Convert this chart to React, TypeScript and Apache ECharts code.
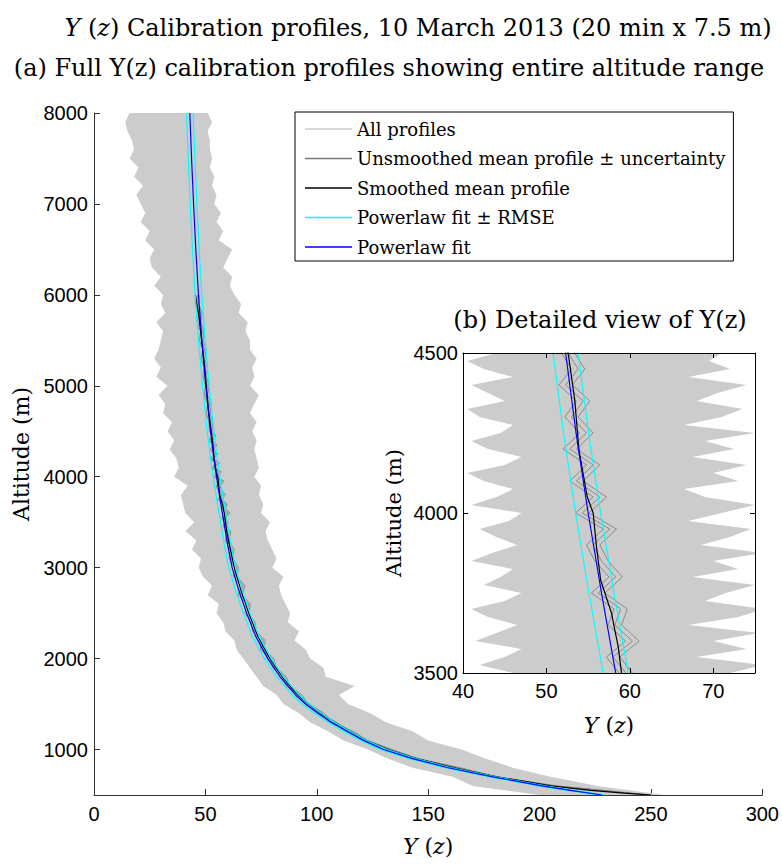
import React, { useEffect, useRef } from 'react';
import * as echarts from 'echarts';

// ---------- data ----------
// Powerlaw fit (blue)
const fitAlt = [500, 550, 600, 700, 800, 900, 1000, 1100, 1200, 1300, 1400, 1500, 1600, 1800, 2000, 2250, 2500, 2750, 3000, 3250, 3500, 3750, 4000, 4250, 4500, 5000, 5500, 6000, 6500, 7000, 7500, 8000];
const fitY = [228, 214, 201, 179, 159, 143, 130, 121, 113.5, 106.5, 100.5, 95, 90.5, 83.5, 78, 72.5, 68.5, 65, 62, 60, 58.3, 56.6, 55.0, 53.55, 52.3, 50.2, 48.4, 46.9, 45.7, 44.7, 43.8, 43.0];
const RMSE = 1.5;

// Smoothed mean profile (black)
const smAlt = [500, 520, 550, 600, 700, 800, 900, 1000, 1100, 1200, 1400, 1600, 1800, 2000, 2250, 2500, 2750, 3000, 3250, 3400, 3500, 3583, 3634, 3687, 3790, 3895, 4000, 4050, 4196, 4352, 4500, 4750, 5000, 5250, 5500, 5750, 6000];
const smY = [250, 238, 223, 205, 181, 161.5, 145, 132, 122.5, 115, 101.5, 91.5, 84.5, 79, 73.5, 69.5, 66, 63, 60.8, 59.6, 59.0, 58.6, 58.2, 57.8, 56.5, 56.0, 55.6, 54.9, 53.9, 53.4, 52.6, 51.3, 50.4, 49.5, 48.3, 47.2, 45.5];

// Unsmoothed mean profile (dark grey) and its uncertainty
const unAlt = [500, 600, 700, 800, 900, 1000, 1100, 1200, 1300, 1400, 1500, 1600, 1700, 1800, 1900, 2000, 2100, 2200, 2300, 2400, 2500, 2600, 2700, 2800, 2900, 3000, 3100, 3200, 3300, 3400,
  3450, 3500, 3550, 3600, 3650, 3700, 3750, 3800, 3850, 3900, 3950, 4000, 4050, 4100, 4150, 4200, 4250, 4300, 4350, 4400, 4450, 4500,
  4600, 4700, 4800, 4900, 5000, 5100, 5200, 5300, 5400, 5500, 5600, 5700, 5800, 5900, 6000];
const unY = [249, 207, 180, 163.5, 144.5, 133, 122, 115.5, 106.5, 102.5, 95.5, 92.5, 87, 85.5, 81, 80, 75.5, 76, 72, 71.5, 68.5, 69.5, 65.5, 67, 63.5, 64, 61.5, 62, 59.8, 60.6,
  58.9, 59.5, 58.0, 60.3, 58.2, 58.9, 56.2, 58.3, 56.6, 55.6, 57.6, 54.3, 56.4, 53.6, 55.6, 52.8, 54.8, 53.0, 54.4, 52.3, 53.8, 52.6,
  52.4, 51.3, 51.8, 50.2, 50.9, 49.7, 50.2, 48.9, 49.6, 48.2, 48.6, 47.1, 47.8, 46.2, 46.4];
const UNC = 0.8;

// All profiles: envelope of the grey band (main panel)
const envAlt = [500, 600, 700, 800, 900, 1000, 1100, 1200, 1300, 1400, 1500, 1600, 1700, 1800, 1900, 2000, 2100, 2200, 2300, 2400,
  2500, 2600, 2700, 2800, 2900, 3000, 3100, 3200, 3300, 3400, 3500, 3600, 3700, 3800, 3900, 4000, 4100, 4200, 4300, 4400,
  4500, 4600, 4700, 4800, 4900, 5000, 5100, 5200, 5300, 5400, 5500, 5600, 5700, 5800, 5900, 6000, 6100, 6200, 6300, 6400,
  6500, 6600, 6700, 6800, 6900, 7000, 7100, 7200, 7300, 7400, 7500, 7600, 7700, 7800, 7900, 8000];
const envLeft = [200, 170, 161, 143, 132, 123, 112, 105, 97, 92,
  85, 82, 76, 73, 70, 67, 64, 63, 59, 58,
  55, 56, 51, 53, 49, 47, 48, 44, 46, 41,
  45, 41, 40, 39, 42, 36, 38, 37, 34, 36,
  33, 35, 31, 32, 29, 33, 28, 30, 27, 29,
  30, 31, 28, 32, 30, 31, 27, 30, 26, 25,
  27, 23, 25, 21, 23, 21, 19, 22, 18, 20,
  16, 18, 17, 15, 14, 16];
const envRight = [256, 226, 205, 188, 176, 165, 150, 143, 131, 124,
  114, 110, 117, 104, 103, 97, 95, 90, 92, 87,
  88, 86, 84, 83, 85, 80, 82, 80, 78, 77,
  79, 75, 76, 74, 75, 72, 74, 73, 72, 73,
  71, 73, 70, 72, 74, 70, 72, 71, 73, 70,
  70, 68, 69, 65, 66, 63, 61, 62, 58, 60,
  62, 56, 58, 55, 57, 54, 55, 53, 54, 52,
  53, 52, 52, 51, 53, 51];

// All profiles: envelope in the detailed view
const inAlt = [3500, 3525, 3550, 3575, 3600, 3625, 3650, 3675, 3700, 3725, 3750, 3775, 3800, 3825, 3850, 3875, 3900, 3925, 3950, 3975,
  4000, 4025, 4050, 4075, 4100, 4125, 4150, 4175, 4200, 4225, 4250, 4275, 4300, 4325, 4350, 4375, 4400, 4425, 4450, 4475, 4500];
const inLeft = [46, 42, 45, 47, 41.5, 44, 46.5, 43, 41, 45, 47, 42.5, 44.5, 46, 41, 43.5, 46.5, 44, 42, 45.5,
  47, 41, 44, 46, 42.5, 40.5, 45, 47, 43, 41, 44.5, 46, 42, 40.5, 45, 43, 41, 46, 42.5, 40.5, 44];
const inRight = [72, 76, 68, 74, 70, 75.5, 67, 73, 76, 69, 71.5, 75, 67.5, 73, 70, 76, 68.5, 72, 74.5, 67,
  71, 75, 69, 66.5, 73, 70, 74, 67.5, 72.5, 69, 75, 66.5, 71, 73.5, 68, 70.5, 74, 67, 72, 69.5, 71];

const xTicksMain = [0, 50, 100, 150, 200, 250, 300];
const yTicksMain = [1000, 2000, 3000, 4000, 5000, 6000, 7000, 8000];
const xTicksInset = [40, 50, 60, 70];
const yTicksInset = [3500, 4000, 4500];

const N_ALL = 'All profiles';
const N_UN = 'Unsmoothed mean profile ± uncertainty';
const N_SM = 'Smoothed mean profile';
const N_RMSE = 'Powerlaw fit ± RMSE';
const N_FIT = 'Powerlaw fit';

const C_ALL = '#cccccc';
const C_UN = '#7a7a7a';
const C_SM = '#000000';
const C_RMSE = '#00ffff';
const C_FIT = '#0000ff';

const SERIF = 'DejaVu Serif';
const SANS = 'Liberation Sans';

// ---------- helpers ----------
const pairs = (xs: number[], alts: number[]) => xs.map((x, i) => [x, alts[i]]);

function band(name: string, alts: number[], left: number[], right: number[], gi: number, z: number) {
  return {
    type: 'custom',
    name,
    xAxisIndex: gi === 0 ? 0 : 1,
    yAxisIndex: gi === 0 ? 0 : 1,
    z,
    clip: true,
    silent: true,
    itemStyle: { color: C_ALL },
    data: alts.map((a, i) => [left[i], right[i], a]),
    encode: { x: [0, 1], y: 2 },
    renderItem: (params: any, api: any) => {
      if (params.dataIndex !== 0) return null;
      const pts: number[][] = [];
      for (let i = 0; i < alts.length; i++) pts.push(api.coord([left[i], alts[i]]));
      for (let i = alts.length - 1; i >= 0; i--) pts.push(api.coord([right[i], alts[i]]));
      const cs = params.coordSys;
      return {
        type: 'polygon',
        shape: { points: pts },
        style: { fill: C_ALL, stroke: null },
        clipPath: { type: 'rect', shape: { x: cs.x, y: cs.y, width: cs.width, height: cs.height } },
      };
    },
  };
}

function line(name: string, data: number[][], color: string, width: number, gi: number, z: number) {
  return {
    type: 'line',
    name,
    xAxisIndex: gi === 0 ? 0 : 1,
    yAxisIndex: gi === 0 ? 0 : 1,
    z,
    data,
    showSymbol: false,
    symbol: 'none',
    clip: true,
    silent: true,
    color,
    lineStyle: { color, width },
  };
}

function seriesFor(gi: number, zb: number) {
  const s: any[] = [];
  if (gi === 0) s.push(band(N_ALL, envAlt, envLeft, envRight, 0, zb));
  else s.push(band(N_ALL, inAlt, inLeft, inRight, 1, zb));
  s.push(line(N_UN, pairs(unY.map((v) => v - UNC), unAlt), C_UN, 0.8, gi, zb + 1));
  s.push(line(N_UN, pairs(unY.map((v) => v + UNC), unAlt), C_UN, 0.8, gi, zb + 1));
  s.push(line(N_UN, pairs(unY, unAlt), C_UN, 0.8, gi, zb + 1));
  s.push(line(N_SM, pairs(smY, smAlt), C_SM, 1.2, gi, zb + 2));
  s.push(line(N_RMSE, pairs(fitY.map((v) => v - RMSE), fitAlt), C_RMSE, 1.2, gi, zb + 3));
  s.push(line(N_RMSE, pairs(fitY.map((v) => v + RMSE), fitAlt), C_RMSE, 1.2, gi, zb + 3));
  s.push(line(N_FIT, pairs(fitY, fitAlt), C_FIT, 1.2, gi, zb + 4));
  return s;
}

const richYz = (size: number) => ({
  it: { fontFamily: SERIF, fontStyle: 'italic', fontWeight: 'normal', fontSize: size, color: '#000' },
  rm: { fontFamily: SERIF, fontWeight: 'normal', fontSize: size, color: '#000' },
});

const plain = (v: number) => String(v);
const tickLabel = { fontFamily: SANS, fontSize: 20, color: '#000', formatter: plain };
const titleStyle = { fontFamily: SERIF, fontSize: 24, fontWeight: 'normal', color: '#000' };

export default function App() {
  const ref = useRef<HTMLDivElement>(null);
  useEffect(() => {
    const chart = echarts.init(ref.current!, null, { renderer: 'svg' });
    const option: any = {
      animation: false,
      backgroundColor: '#fff',
      title: [
        {
          text: '{it|Y}{rm| (}{it|z}{rm|) Calibration profiles, 10 March 2013 (20 min x 7.5 m)}',
          left: 418, top: 16, textAlign: 'center', padding: 0,
          textStyle: { ...titleStyle, rich: richYz(24) },
        },
        {
          text: '(a) Full Y(z) calibration profiles showing entire altitude range',
          left: 389, top: 56, textAlign: 'center', padding: 0,
          textStyle: titleStyle,
        },
        {
          text: '(b) Detailed view of Y(z)',
          left: 600, top: 308, textAlign: 'center', padding: 0,
          textStyle: titleStyle,
        },
      ],
      legend: {
        orient: 'vertical', left: 295, top: 112,
        data: [N_ALL, N_UN, N_SM, N_RMSE, N_FIT],
        icon: 'rect', itemWidth: 47, itemHeight: 1.5, itemGap: 11.5,
        padding: [8, 8, 5, 10],
        backgroundColor: '#fff', borderColor: '#000', borderWidth: 1,
        textStyle: { fontFamily: SERIF, fontSize: 18, color: '#000' },
        selectedMode: false, z: 30,
      },
      grid: [
        { left: 94, top: 113, width: 669, height: 682, containLabel: false, z: 0 },
        { left: 463, top: 353, width: 292, height: 320, containLabel: false, show: true, backgroundColor: '#fff', borderWidth: 0, z: 10 },
      ],
      xAxis: [
        {
          gridIndex: 0, type: 'value', min: 0, max: 300, interval: 50, position: 'bottom',
          axisLine: { show: true, onZero: false, lineStyle: { color: '#333', width: 1 } },
          axisTick: { show: true, inside: true, length: 6, lineStyle: { color: '#333' }, customValues: xTicksMain },
          axisLabel: { ...tickLabel, margin: 9, customValues: xTicksMain },
          splitLine: { show: false },
          name: '{it|Y}{rm| (}{it|z}{rm|)}', nameLocation: 'middle', nameGap: 40,
          nameTextStyle: { rich: richYz(22) },
        },
        {
          gridIndex: 1, type: 'value', min: 40, max: 75, interval: 10, position: 'bottom', z: 20,
          axisLine: { show: true, onZero: false, lineStyle: { color: '#000', width: 1 } },
          axisTick: { show: true, inside: true, length: 5, lineStyle: { color: '#000' }, customValues: xTicksInset },
          axisLabel: { ...tickLabel, margin: 8, customValues: xTicksInset },
          splitLine: { show: false },
          name: '{it|Y}{rm| (}{it|z}{rm|)}', nameLocation: 'middle', nameGap: 41,
          nameTextStyle: { rich: richYz(22) },
        },
        {
          gridIndex: 1, type: 'value', min: 40, max: 75, interval: 10, position: 'top', z: 20,
          axisLine: { show: true, onZero: false, lineStyle: { color: '#000', width: 1 } },
          axisTick: { show: true, inside: true, length: 5, lineStyle: { color: '#000' }, customValues: xTicksInset },
          axisLabel: { show: false },
          splitLine: { show: false },
        },
      ],
      yAxis: [
        {
          gridIndex: 0, type: 'value', min: 500, max: 8000, position: 'left',
          axisLine: { show: true, onZero: false, lineStyle: { color: '#333', width: 1 } },
          axisTick: { show: true, inside: true, length: 6, lineStyle: { color: '#333' }, customValues: yTicksMain },
          axisLabel: { ...tickLabel, margin: 6, customValues: yTicksMain },
          splitLine: { show: false },
          name: 'Altitude (m)', nameLocation: 'middle', nameGap: 59, nameRotate: 90,
          nameTextStyle: { fontFamily: SERIF, fontSize: 22, color: '#000' },
        },
        {
          gridIndex: 1, type: 'value', min: 3500, max: 4500, interval: 500, position: 'left', z: 20,
          axisLine: { show: true, onZero: false, lineStyle: { color: '#000', width: 1 } },
          axisTick: { show: true, inside: true, length: 5, lineStyle: { color: '#000' }, customValues: yTicksInset },
          axisLabel: { ...tickLabel, margin: 5, customValues: yTicksInset },
          splitLine: { show: false },
          name: 'Altitude (m)', nameLocation: 'middle', nameGap: 59, nameRotate: 90,
          nameTextStyle: { fontFamily: SERIF, fontSize: 21, color: '#000' },
        },
        {
          gridIndex: 1, type: 'value', min: 3500, max: 4500, interval: 500, position: 'right', z: 20,
          axisLine: { show: true, onZero: false, lineStyle: { color: '#000', width: 1 } },
          axisTick: { show: true, inside: true, length: 5, lineStyle: { color: '#000' }, customValues: yTicksInset },
          axisLabel: { show: false },
          splitLine: { show: false },
        },
      ],
      series: [...seriesFor(0, 1), ...seriesFor(1, 12)],
    };
    chart.setOption(option);
    return () => chart.dispose();
  }, []);
  return <div ref={ref} style={{ position: 'absolute', left: 0, top: 0, width: 782, height: 864 }} />;
}
